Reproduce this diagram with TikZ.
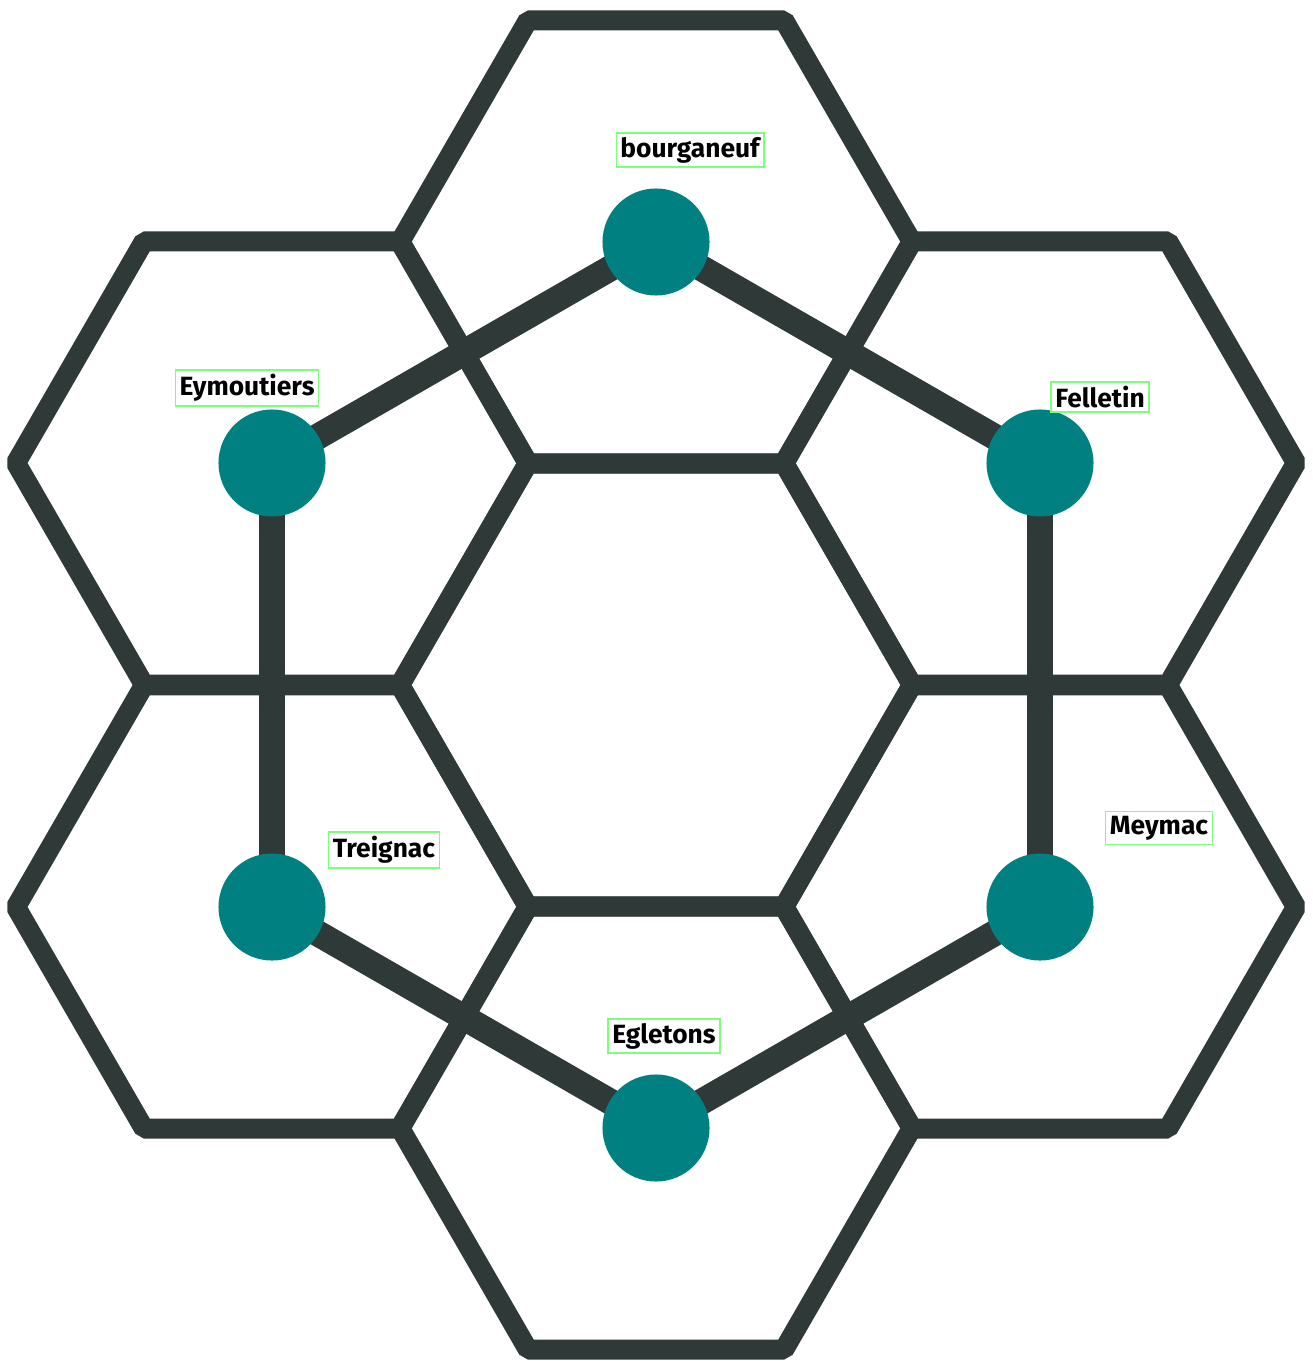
\documentclass[tikz,border=0pt]{standalone}
\usepackage{fontspec}
\setsansfont{Fira Sans}
\usepackage{xcolor}
\usepackage{tikz}
\usetikzlibrary{positioning,backgrounds}
\definecolor{Slate}{HTML}{2F3937}
\definecolor{Teal}{HTML}{008080}
\definecolor{BoxGreen}{HTML}{7CFF7C}

\begin{document}
\begin{tikzpicture}[x=0.01cm, y=-0.01cm, font=\sffamily\bfseries\fontsize{7.5}{9}\selectfont]
\tikzset{hexline/.style={draw=Slate, line width=0.2cm, line join=bevel}, road/.style={draw=Slate, line width=0.26cm}, town/.style={circle, fill=Teal, minimum size=1.07cm, inner sep=0pt}, lbl/.style={draw=BoxGreen, line width=0.4pt, inner sep=1.2pt, text=black}}
\useasboundingbox (0,0) rectangle (1313,1361);
% towns
\node[town] (bourganeuf) at (656,242) {};
\node[town] (eymoutiers) at (272,463) {};
\node[town] (felletin) at (1040,463) {};
\node[town] (treignac) at (272,907) {};
\node[town] (meymac) at (1040,907) {};
\node[town] (egletons) at (656,1128) {};
% labels
\node[lbl] (bourganeuf-l) at (690,150) {bourganeuf};
\node[lbl] (eymoutiers-l) at (247,388) {Eymoutiers};
\node[lbl] (felletin-l) at (1100,397) {Felletin};
\node[lbl] (treignac-l) at (384,850) {Treignac};
\node[lbl] (meymac-l) at (1159,828) {Meymac};
\node[lbl] (egletons-l) at (664,1036) {Egletons};
\begin{scope}[on background layer]
% hexagon grid
\foreach \cx/\cy in {656/685,656/242,656/1128,272/463,1040/463,272/907,1040/907}
  \draw[hexline, shift={(\cx,\cy)}] (0:256) -- (60:256) -- (120:256) -- (180:256) -- (240:256) -- (300:256) -- cycle;
% roads
\foreach \a/\b in {bourganeuf/eymoutiers,bourganeuf/felletin,eymoutiers/treignac,felletin/meymac,treignac/egletons,meymac/egletons} \draw[road] (\a.center)--(\b.center);
\end{scope}
\end{tikzpicture}
\end{document}
